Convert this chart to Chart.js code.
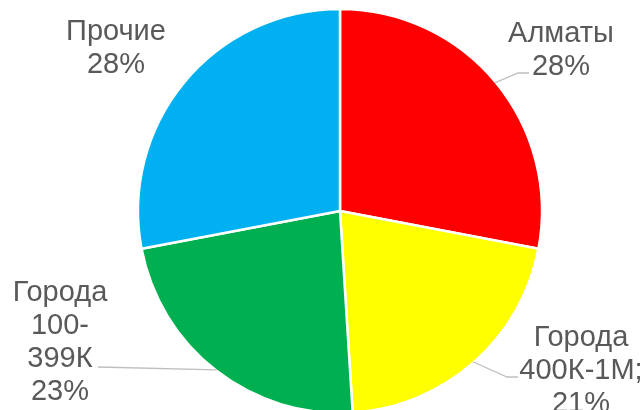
<!DOCTYPE html>
<html>
<head>
<meta charset="utf-8">
<script src="https://cdn.jsdelivr.net/npm/chart.js@4/dist/chart.umd.min.js"></script>
<style>
  html, body { margin: 0; padding: 0; background: #fff; }
  #wrap { width: 642px; height: 410px; overflow: hidden; }
</style>
</head>
<body>
<div id="wrap"><canvas id="pie" width="642" height="410"></canvas></div>
<script>
const categories = ["Алматы", "Города 400К-1М", "Города 100-399К", "Прочие"];
const categoryLines = [["Алматы"], ["Города", "400К-1М;"], ["Города", "100-", "399К"], ["Прочие"]];
const shares = [28, 21, 23, 28];
const sliceColors = ["#FF0000", "#FFFF00", "#00B050", "#00B0F0"];

// label placement relative to the pie centre: text centre x, first baseline y,
// and where the leader line ends (null = no leader)
const labelLayout = [
  { dx: 221, dy: -169, lead: { dx: 189, dy: -138, elbow: 11 } },
  { dx: 241, dy: 135, lead: { dx: 178, dy: 166, elbow: 11 } },
  { dx: -280, dy: 90, lead: { dx: -242, dy: 156, elbow: 0 } },
  { dx: -224, dy: -171, lead: null }
];

const LINE_H = 33;

const outsideLabels = {
  id: "outsideLabels",
  afterDatasetsDraw(chart) {
    const ctx = chart.ctx;
    const meta = chart.getDatasetMeta(0);
    ctx.save();
    meta.data.forEach((arc, i) => {
      const { x, y, startAngle, endAngle, outerRadius } =
        arc.getProps(["x", "y", "startAngle", "endAngle", "outerRadius"], true);
      const pos = labelLayout[i];

      if (pos.lead) {
        const mid = (startAngle + endAngle) / 2;
        const sx = x + Math.cos(mid) * (outerRadius - 1);
        const sy = y + Math.sin(mid) * (outerRadius - 1);
        const ex = x + pos.lead.dx;
        const ey = y + pos.lead.dy;
        const dir = ex > sx ? 1 : -1;
        ctx.strokeStyle = "#BFBFBF";
        ctx.lineWidth = 1.3;
        ctx.beginPath();
        ctx.moveTo(sx, sy);
        ctx.lineTo(ex - dir * pos.lead.elbow, ey);
        ctx.lineTo(ex, ey);
        ctx.stroke();
      }

      const lines = categoryLines[i].concat([shares[i] + "%"]);
      ctx.fillStyle = "#595959";
      ctx.font = "29px 'Liberation Sans', Arial, sans-serif";
      ctx.textAlign = "center";
      ctx.textBaseline = "alphabetic";
      lines.forEach((t, k) => {
        ctx.fillText(t, x + pos.dx, y + pos.dy + k * LINE_H);
      });
    });
    ctx.restore();
  }
};

new Chart(document.getElementById("pie"), {
  type: "pie",
  data: {
    labels: categories,
    datasets: [{
      data: shares,
      backgroundColor: sliceColors,
      borderColor: "#FFFFFF",
      borderWidth: 2.5,
      clip: false
    }]
  },
  options: {
    responsive: false,
    animation: false,
    radius: 202,
    layout: { padding: { left: 38, right: 0, top: 12, bottom: 0 } },
    plugins: {
      legend: { display: false },
      tooltip: { enabled: false }
    }
  },
  plugins: [outsideLabels]
});
</script>
</body>
</html>
